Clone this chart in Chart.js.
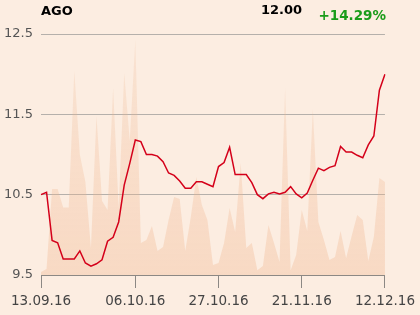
<!DOCTYPE html>
<html>
<head>
<meta charset="utf-8">
<script src="https://cdn.jsdelivr.net/npm/chart.js@4"></script>
<style>
  html, body { margin:0; padding:0; background:#fcede1; }
  #wrap { position:relative; width:420px; height:315px; }
  canvas { position:absolute; left:0; top:0; }
  .t { position:absolute; font-family:"DejaVu Sans", sans-serif; font-weight:bold; white-space:nowrap; line-height:1; }
</style>
</head>
<body>
<div id="wrap">
  <canvas id="c" width="420" height="315"></canvas>
  <div class="t" id="sym" style="left:41px; top:4px; font-size:13px; color:#000;">AGO</div>
  <div class="t" id="last" style="right:118px; top:3px; font-size:13px; color:#000;">12.00</div>
  <div class="t" id="chg" style="right:34px; top:9px; font-size:13.5px; color:#1a9c1a;">+14.29%</div>
</div>
<script>
const dates = [
  "13.09.16","14.09.16","15.09.16","16.09.16","19.09.16","20.09.16","21.09.16","22.09.16","23.09.16","26.09.16",
  "27.09.16","28.09.16","29.09.16","30.09.16","03.10.16","04.10.16","05.10.16","06.10.16","07.10.16","10.10.16",
  "11.10.16","12.10.16","13.10.16","14.10.16","17.10.16","18.10.16","19.10.16","20.10.16","21.10.16","24.10.16",
  "25.10.16","26.10.16","27.10.16","28.10.16","31.10.16","01.11.16","02.11.16","03.11.16","04.11.16","07.11.16",
  "09.11.16","10.11.16","14.11.16","15.11.16","16.11.16","17.11.16","18.11.16","21.11.16","22.11.16","23.11.16",
  "24.11.16","25.11.16","28.11.16","29.11.16","30.11.16","01.12.16","02.12.16","05.12.16","06.12.16","07.12.16",
  "08.12.16","09.12.16","12.12.16"
];
const price = [
  10.50,10.53,9.93,9.90,9.70,9.70,9.70,9.80,9.65,9.61,
  9.64,9.69,9.92,9.97,10.16,10.62,10.89,11.18,11.16,11.00,
  11.00,10.98,10.91,10.77,10.74,10.67,10.58,10.58,10.66,10.66,
  10.63,10.60,10.85,10.90,11.09,10.75,10.75,10.75,10.65,10.50,
  10.45,10.51,10.53,10.51,10.53,10.60,10.51,10.46,10.52,10.68,
  10.83,10.80,10.84,10.86,11.10,11.03,11.03,10.99,10.96,11.12,
  11.23,11.80,12.00
];
const volume = [
  1.2,2.5,35.7,35.7,28,28,84.6,50,38.6,11.2,
  66,30.7,27,77.6,27.8,83.8,55.6,97.5,13.3,14.5,
  20.3,10,11.6,22.8,32.4,31.5,10,24,40.7,29,
  22.8,4.1,5,13.3,27.8,17.8,46.5,11.2,13.3,2,
  3.7,20.7,13.3,5.4,77.6,2,8.3,27,18.3,68.9,
  22,14.5,6.2,7.5,18.3,7,16.2,24.9,22.8,5.8,
  15.8,40.2,38.6
];
const yTicks = [9.5, 10.5, 11.5, 12.5];
const xTickIdx = [0, 17, 32, 47, 62];

function volFill(ctx) {
  const chart = ctx.chart;
  const area = chart.chartArea;
  if (!area) return 'rgba(240,180,140,0.3)';
  const g = chart.ctx.createLinearGradient(0, area.top, 0, area.bottom);
  g.addColorStop(0, 'rgba(240,180,140,0.18)');
  g.addColorStop(1, 'rgba(240,180,140,0.34)');
  return g;
}

new Chart(document.getElementById('c'), {
  type: 'line',
  data: {
    labels: dates,
    datasets: [
      {
        data: price,
        yAxisID: 'y',
        borderColor: '#d4001a',
        borderWidth: 1.5,
        pointRadius: 0,
        tension: 0,
        fill: false
      },
      {
        data: volume,
        yAxisID: 'yv',
        borderWidth: 0,
        borderColor: 'rgba(0,0,0,0)',
        backgroundColor: volFill,
        pointRadius: 0,
        tension: 0,
        fill: 'origin'
      }
    ]
  },
  options: {
    responsive: false,
    animation: false,
    events: [],
    layout: { padding: { top: 34, right: 34, left: 0, bottom: 0 } },
    plugins: { legend: { display: false }, tooltip: { enabled: false } },
    scales: {
      x: {
        type: 'category',
        offset: false,
        afterFit: s => { s.height = 40; },
        afterBuildTicks: s => { s.ticks = xTickIdx.map(i => ({ value: i })); },
        grid: { drawOnChartArea: false, drawTicks: true, tickLength: 13, color: '#8c8884', lineWidth: 1 },
        border: { display: true, color: '#8c8884', width: 1 },
        ticks: {
          autoSkip: false,
          maxRotation: 0,
          padding: 5,
          color: '#444',
          font: { family: 'DejaVu Sans', size: 13.5 }
        }
      },
      y: {
        position: 'left',
        min: 9.5,
        max: 12.5,
        afterFit: s => { s.width = 41; },
        afterBuildTicks: s => { s.ticks = yTicks.map(v => ({ value: v })); },
        grid: { drawTicks: false, color: '#b5b0ab', lineWidth: 1 },
        border: { display: false },
        ticks: {
          padding: 8,
          color: '#555',
          font: { family: 'DejaVu Sans', size: 13 },
          callback: v => Number(v).toFixed(1)
        }
      },
      yv: {
        display: false,
        min: 0,
        max: 100
      }
    }
  }
});
</script>
</body>
</html>
